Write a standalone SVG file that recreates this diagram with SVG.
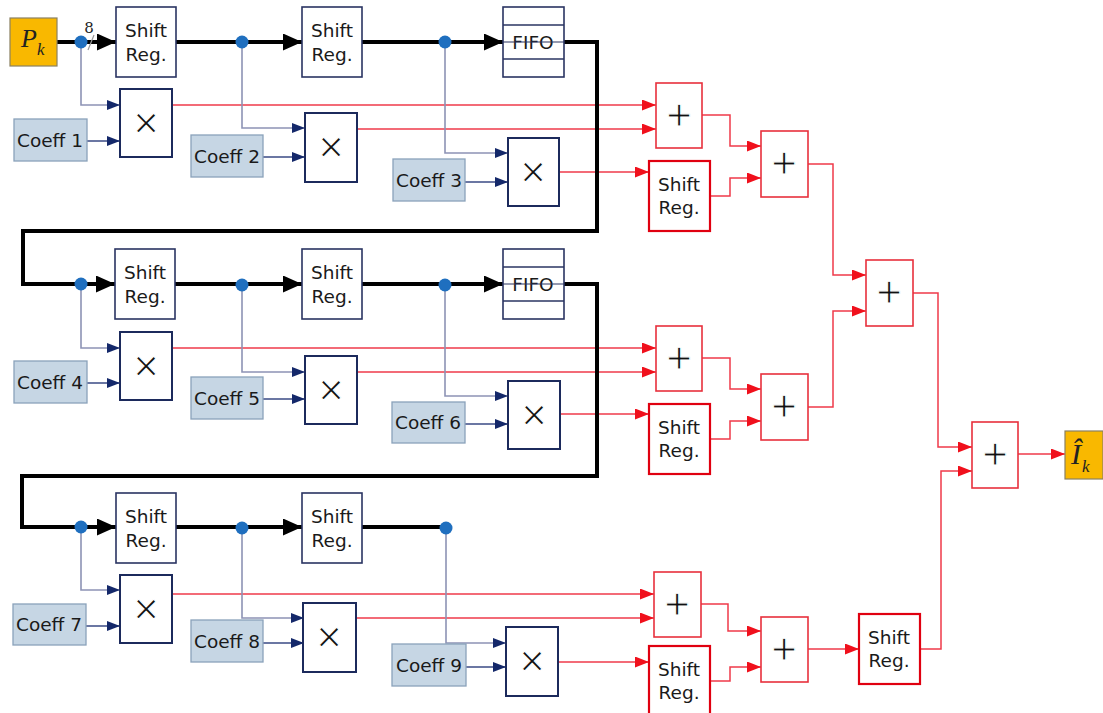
<svg xmlns="http://www.w3.org/2000/svg" width="1103" height="713" viewBox="0 0 1103 713">
<defs>
<style>
.sr{fill:#fff;stroke:#2a3462;stroke-width:1.6}
.mul{fill:#fff;stroke:#1c2a5c;stroke-width:2}
.co{fill:#c6d6e4;stroke:#8aa2ba;stroke-width:1.3}
.pl{fill:#fff;stroke:#e8303c;stroke-width:1.6}
.srr{fill:#fff;stroke:#e00010;stroke-width:2.2}
.io{fill:#f9b800;stroke:#8a8060;stroke-width:1.2}
.t{font-family:"DejaVu Sans",Verdana,sans-serif;font-size:18.5px;fill:#1a1a1a;text-anchor:middle}
.op{font-family:"Liberation Sans",Arial,sans-serif;font-size:44px;fill:#111;text-anchor:middle;stroke:#fff;stroke-width:1.1}
.it{font-family:"Liberation Serif","DejaVu Serif",serif;font-style:italic;fill:#222}
.blk{fill:none;stroke:#000;stroke-width:4}
.blu{fill:none;stroke:#8d93b5;stroke-width:1.6}
.nav{fill:none;stroke:#3a4a84;stroke-width:1.6}
.red{fill:none;stroke:#ef3a4a;stroke-width:1.5}
.dot{fill:#1f6fbf}
</style>
<marker id="ab" markerUnits="userSpaceOnUse" markerWidth="20" markerHeight="18" refX="19" refY="8.5" orient="auto"><path d="M0,0 L19,8.5 L0,17 z" fill="#000"/></marker>
<marker id="an" markerUnits="userSpaceOnUse" markerWidth="14" markerHeight="11" refX="13" refY="5" orient="auto"><path d="M0,0 L13,5 L0,10 z" fill="#14286a"/></marker>
<marker id="ar" markerUnits="userSpaceOnUse" markerWidth="15" markerHeight="12" refX="14" refY="5.5" orient="auto"><path d="M0,0 L14,5.5 L0,11 z" fill="#f0101c"/></marker>
</defs>
<rect width="1103" height="713" fill="#fff"/>

<g id="connectors">
<path class="red" marker-end="url(#ar)" d="M172,105 H656"/>
<path class="red" marker-end="url(#ar)" d="M357,129 H656"/>
<path class="red" marker-end="url(#ar)" d="M559,172 H649"/>
<path class="red" marker-end="url(#ar)" d="M702,115 H730 V146 H761"/>
<path class="red" marker-end="url(#ar)" d="M710,196 H730 V178 H761"/>
<path class="red" marker-end="url(#ar)" d="M808,164 H833 V275 H866"/>
<path class="red" marker-end="url(#ar)" d="M172,348 H656"/>
<path class="red" marker-end="url(#ar)" d="M357,372 H656"/>
<path class="red" marker-end="url(#ar)" d="M560,414 H649"/>
<path class="red" marker-end="url(#ar)" d="M702,358 H730 V389 H761"/>
<path class="red" marker-end="url(#ar)" d="M710,439 H730 V421 H761"/>
<path class="red" marker-end="url(#ar)" d="M808,407 H833 V311 H866"/>
<path class="red" marker-end="url(#ar)" d="M913,293 H938 V447 H972"/>
<path class="red" marker-end="url(#ar)" d="M172,594 H654"/>
<path class="red" marker-end="url(#ar)" d="M356,618 H654"/>
<path class="red" marker-end="url(#ar)" d="M558,662 H649"/>
<path class="red" marker-end="url(#ar)" d="M701,604 H728 V631 H761"/>
<path class="red" marker-end="url(#ar)" d="M710,681 H730 V667 H761"/>
<path class="red" marker-end="url(#ar)" d="M808,649 H859"/>
<path class="red" marker-end="url(#ar)" d="M920,649 H941 V471 H972"/>
<path class="red" marker-end="url(#ar)" d="M1018,454 H1065"/>
<path class="blu" marker-end="url(#an)" d="M81,42 V105 H120"/>
<path class="blu" marker-end="url(#an)" d="M242,42 V128 H305"/>
<path class="blu" marker-end="url(#an)" d="M445,42 V153 H508"/>
<path class="blu" marker-end="url(#an)" d="M81,284 V348 H120"/>
<path class="blu" marker-end="url(#an)" d="M242,284 V372 H305"/>
<path class="blu" marker-end="url(#an)" d="M445,284 V396 H508"/>
<path class="blu" marker-end="url(#an)" d="M81,527 V590 H120"/>
<path class="blu" marker-end="url(#an)" d="M242,527 V618 H304"/>
<path class="blu" marker-end="url(#an)" d="M446,528 V643 H506"/>
<path class="nav" marker-end="url(#an)" d="M87,141 H120"/>
<path class="nav" marker-end="url(#an)" d="M263,157 H305"/>
<path class="nav" marker-end="url(#an)" d="M465,182 H508"/>
<path class="nav" marker-end="url(#an)" d="M87,383 H120"/>
<path class="nav" marker-end="url(#an)" d="M263,399 H305"/>
<path class="nav" marker-end="url(#an)" d="M465,424 H508"/>
<path class="nav" marker-end="url(#an)" d="M86,626 H120"/>
<path class="nav" marker-end="url(#an)" d="M263,643 H304"/>
<path class="nav" marker-end="url(#an)" d="M466,667 H506"/>
<path class="blk" marker-end="url(#ab)" d="M57,42 H116"/>
<path class="blk" marker-end="url(#ab)" d="M176,42 H302"/>
<path class="blk" marker-end="url(#ab)" d="M362,42 H503"/>
<path class="blk" marker-end="url(#ab)" d="M564,42 H597 V231 H23 V284 H115"/>
<path class="blk" marker-end="url(#ab)" d="M175,284 H302"/>
<path class="blk" marker-end="url(#ab)" d="M362,284 H503"/>
<path class="blk" marker-end="url(#ab)" d="M564,284 H597 V476 H22 V527 H116"/>
<path class="blk" marker-end="url(#ab)" d="M176,527 H302"/>
<path class="blk" d="M362,527 H446"/>
<line x1="94" y1="35" x2="88" y2="50" stroke="#9a9a9a" stroke-width="1.2"/>
<text x="89" y="33" font-family="DejaVu Serif,serif" font-size="15" fill="#222" text-anchor="middle">8</text>
<circle class="dot" cx="81" cy="42" r="6.5"/>
<circle class="dot" cx="242" cy="42" r="6.5"/>
<circle class="dot" cx="445" cy="42" r="6.5"/>
<circle class="dot" cx="81" cy="284" r="6.5"/>
<circle class="dot" cx="242" cy="285" r="6.5"/>
<circle class="dot" cx="445" cy="285" r="6.5"/>
<circle class="dot" cx="81" cy="527" r="6.5"/>
<circle class="dot" cx="242" cy="528" r="6.5"/>
<circle class="dot" cx="446" cy="528" r="6.5"/>
</g>

<g id="Pk"><rect class="io" x="10" y="18" width="47" height="48"/><text class="it" x="21" y="47" font-size="26">P</text><text class="it" x="37" y="55" font-size="17">k</text></g>
<g id="Ik"><rect class="io" x="1065" y="431" width="38" height="48"/><text class="it" x="1071" y="464" font-size="30">Î</text><text class="it" x="1082" y="472" font-size="17">k</text></g>

<g id="sr1"><rect class="sr" x="116" y="7" width="60" height="70"/><text class="t" x="146" y="37">Shift</text><text class="t" x="146" y="61">Reg.</text></g>
<g id="sr2"><rect class="sr" x="302" y="7" width="60" height="70"/><text class="t" x="332" y="37">Shift</text><text class="t" x="332" y="61">Reg.</text></g>
<g id="fifo1"><rect class="sr" x="503" y="7" width="61" height="70"/><line x1="503" y1="25" x2="564" y2="25" stroke="#2a3462" stroke-width="1.4"/><line x1="503" y1="59" x2="564" y2="59" stroke="#2a3462" stroke-width="1.4"/><text class="t" x="533" y="49">FIFO</text><line x1="503" y1="42" x2="564" y2="42" stroke="#2a3462" stroke-width="1.2"/></g>
<g id="m1"><rect class="mul" x="120" y="89" width="52" height="68"/><text class="op" x="146" y="138">×</text></g>
<g id="m2"><rect class="mul" x="305" y="113" width="52" height="69"/><text class="op" x="331" y="162">×</text></g>
<g id="m3"><rect class="mul" x="508" y="138" width="51" height="68"/><text class="op" x="533" y="187">×</text></g>
<g id="c1"><rect class="co" x="14" y="119" width="73" height="42"/><text class="t" x="50" y="147">Coeff 1</text></g>
<g id="c2"><rect class="co" x="191" y="135" width="72" height="42"/><text class="t" x="227" y="163">Coeff 2</text></g>
<g id="c3"><rect class="co" x="393" y="159" width="72" height="42"/><text class="t" x="429" y="187">Coeff 3</text></g>

<g id="sr3"><rect class="sr" x="115" y="249" width="60" height="70"/><text class="t" x="145" y="279">Shift</text><text class="t" x="145" y="303">Reg.</text></g>
<g id="sr4"><rect class="sr" x="302" y="249" width="60" height="70"/><text class="t" x="332" y="279">Shift</text><text class="t" x="332" y="303">Reg.</text></g>
<g id="fifo2"><rect class="sr" x="503" y="249" width="61" height="70"/><line x1="503" y1="267" x2="564" y2="267" stroke="#2a3462" stroke-width="1.4"/><line x1="503" y1="301" x2="564" y2="301" stroke="#2a3462" stroke-width="1.4"/><text class="t" x="533" y="291">FIFO</text><line x1="503" y1="284" x2="564" y2="284" stroke="#2a3462" stroke-width="1.2"/></g>
<g id="m4"><rect class="mul" x="120" y="332" width="52" height="68"/><text class="op" x="146" y="381">×</text></g>
<g id="m5"><rect class="mul" x="305" y="356" width="52" height="68"/><text class="op" x="331" y="405">×</text></g>
<g id="m6"><rect class="mul" x="508" y="381" width="52" height="68"/><text class="op" x="534" y="430">×</text></g>
<g id="c4"><rect class="co" x="14" y="361" width="73" height="42"/><text class="t" x="50" y="389">Coeff 4</text></g>
<g id="c5"><rect class="co" x="191" y="377" width="72" height="42"/><text class="t" x="227" y="405">Coeff 5</text></g>
<g id="c6"><rect class="co" x="392" y="402" width="73" height="41"/><text class="t" x="428" y="429">Coeff 6</text></g>

<g id="sr5"><rect class="sr" x="116" y="493" width="60" height="70"/><text class="t" x="146" y="523">Shift</text><text class="t" x="146" y="547">Reg.</text></g>
<g id="sr6"><rect class="sr" x="302" y="493" width="60" height="70"/><text class="t" x="332" y="523">Shift</text><text class="t" x="332" y="547">Reg.</text></g>
<g id="m7"><rect class="mul" x="120" y="575" width="52" height="68"/><text class="op" x="146" y="624">×</text></g>
<g id="m8"><rect class="mul" x="303" y="603" width="53" height="69"/><text class="op" x="329" y="652">×</text></g>
<g id="m9"><rect class="mul" x="506" y="627" width="52" height="69"/><text class="op" x="532" y="676">×</text></g>
<g id="c7"><rect class="co" x="13" y="604" width="73" height="41"/><text class="t" x="49" y="631">Coeff 7</text></g>
<g id="c8"><rect class="co" x="191" y="620" width="72" height="42"/><text class="t" x="227" y="648">Coeff 8</text></g>
<g id="c9"><rect class="co" x="392" y="644" width="74" height="42"/><text class="t" x="429" y="672">Coeff 9</text></g>

<g id="p1"><rect class="pl" x="656" y="83" width="46" height="65"/><text class="op" x="679" y="130">+</text></g>
<g id="p2"><rect class="pl" x="761" y="131" width="47" height="66"/><text class="op" x="784" y="178">+</text></g>
<g id="p4"><rect class="pl" x="656" y="326" width="46" height="65"/><text class="op" x="679" y="373">+</text></g>
<g id="p5"><rect class="pl" x="761" y="374" width="47" height="66"/><text class="op" x="784" y="421">+</text></g>
<g id="p7"><rect class="pl" x="654" y="572" width="47" height="65"/><text class="op" x="677" y="619">+</text></g>
<g id="p8"><rect class="pl" x="761" y="617" width="47" height="65"/><text class="op" x="784" y="664">+</text></g>
<g id="p3"><rect class="pl" x="866" y="260" width="47" height="66"/><text class="op" x="889" y="307">+</text></g>
<g id="pf"><rect class="pl" x="972" y="422" width="46" height="66"/><text class="op" x="995" y="469">+</text></g>
<g id="srr1"><rect class="srr" x="649" y="161" width="61" height="70"/><text class="t" x="679" y="191">Shift</text><text class="t" x="679" y="214">Reg.</text></g>
<g id="srr2"><rect class="srr" x="649" y="404" width="61" height="70"/><text class="t" x="679" y="434">Shift</text><text class="t" x="679" y="457">Reg.</text></g>
<g id="srr3"><rect class="srr" x="649" y="646" width="61" height="70"/><text class="t" x="679" y="676">Shift</text><text class="t" x="679" y="699">Reg.</text></g>
<g id="srr4"><rect class="srr" x="859" y="614" width="61" height="70"/><text class="t" x="889" y="644">Shift</text><text class="t" x="889" y="667">Reg.</text></g>
</svg>
